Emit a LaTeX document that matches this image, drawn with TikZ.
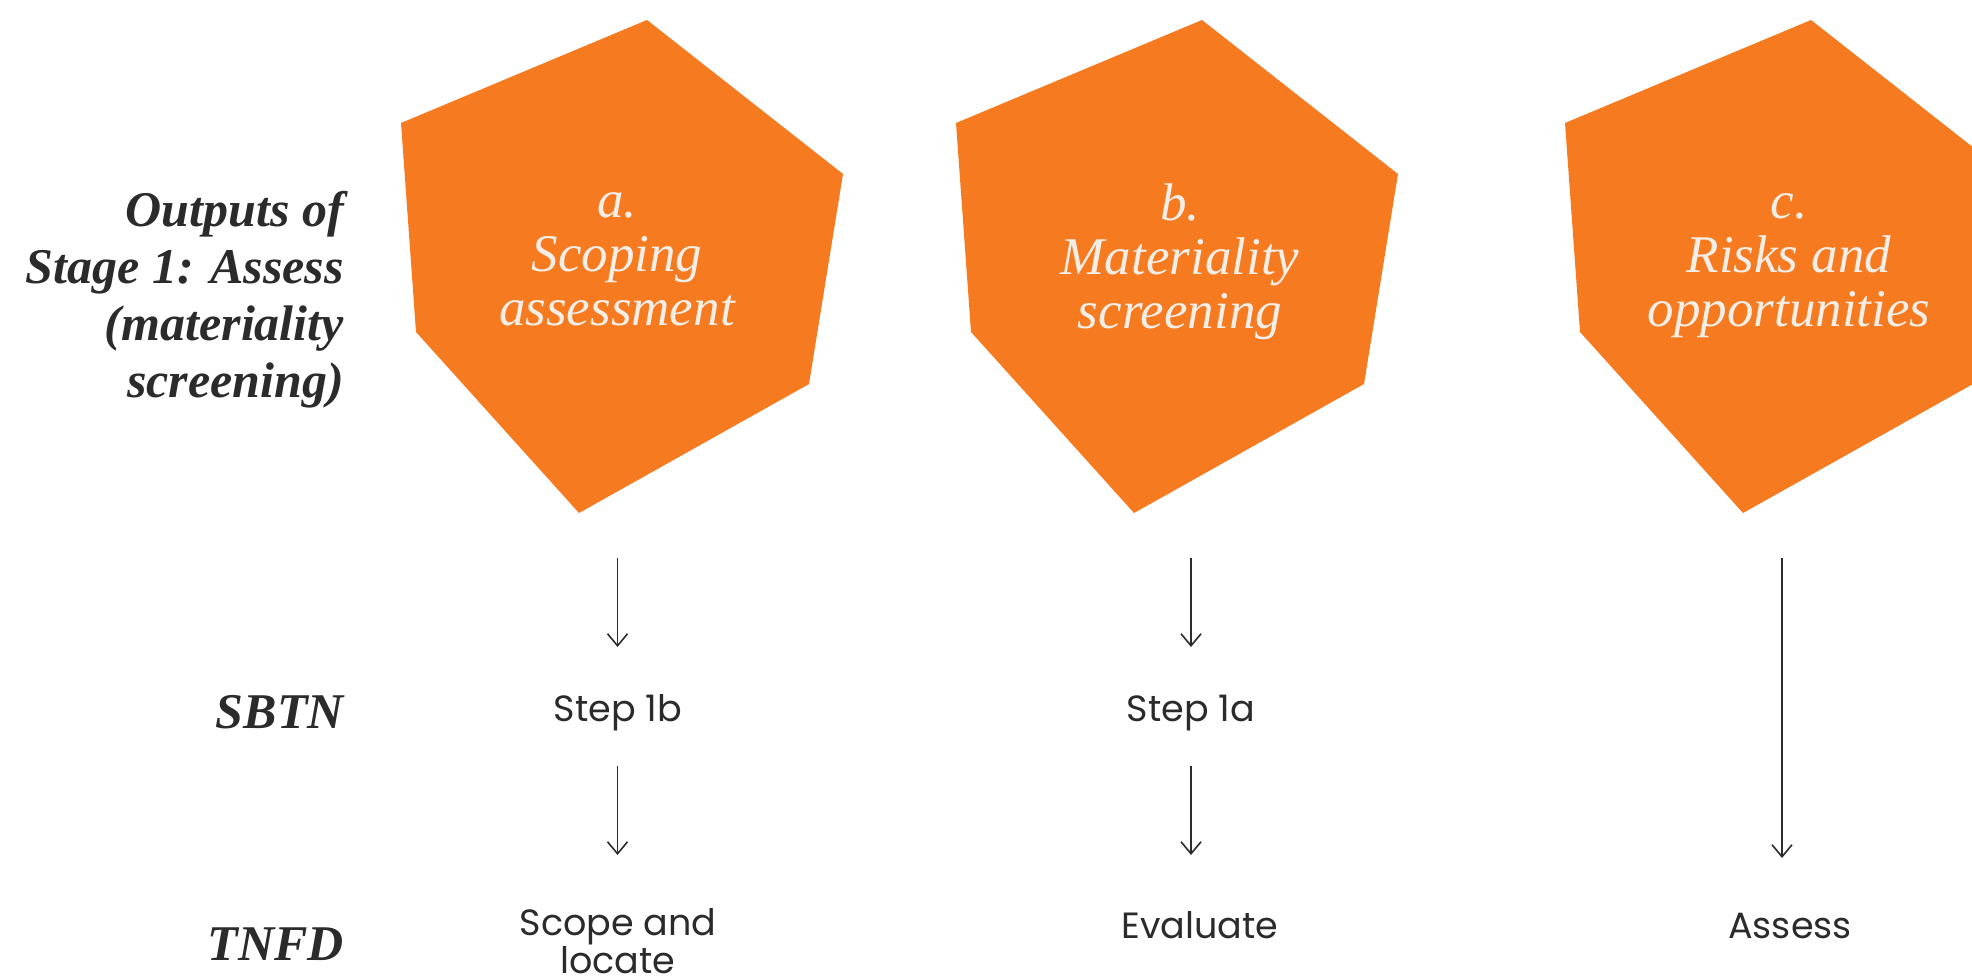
\documentclass[tikz,border=0pt]{standalone}
\usepackage{fontspec}
\setmainfont{Liberation Serif}
\newfontfamily\stepfont{Poppins}
\usetikzlibrary{arrows.meta}
\definecolor{orng}{HTML}{F57A20}
\definecolor{cream}{HTML}{F4EEE6}
\definecolor{ink}{HTML}{2B2B2B}
\tikzset{
  hexa/.pic={\fill[orng] (0,0) -- (246,-103) -- (442,51) -- (408,261) -- (178,390) -- (15,209) -- cycle;},
  hextext/.style={text=cream, align=center, inner sep=0pt, font=\fontsize{53}{54}\selectfont\itshape},
  rowlabel/.style={text=ink, align=right, inner sep=0pt, font=\fontsize{50}{57}\selectfont\bfseries\itshape},
  steplabel/.style={text=ink, align=center, inner sep=0pt, font=\fontsize{36.5}{38}\selectfont\stepfont},
  arr/.style={draw=ink, line width=1.6pt, -{Straight Barb[length=12pt,width=20pt,line width=1.6pt]}}
}
\begin{document}
\begin{tikzpicture}[x=1pt,y=-1pt]
\useasboundingbox (0,0) rectangle (1972,979);
\begin{scope}
\clip (0,0) rectangle (1972,979);
\pic at (401,123) {hexa};
\pic at (956,123) {hexa};
\pic at (1565,123) {hexa};
\end{scope}
\node[hextext] (ta) at (617,259) {a.\\Scoping\\assessment};
\node[hextext] (tb) at (1180,262) {b.\\Materiality\\screening};
\node[hextext] (tc) at (1789,266) {c.\\Risks and\\opportunities};
\node[rowlabel, anchor=east] (out) at (344,300) {Outputs of\\Stage 1: Assess\\(materiality\\screening)};
\node[rowlabel, anchor=base east] (sbtn) at (344,728) {SBTN};
\node[rowlabel, anchor=base east] (tnfd) at (344,960) {TNFD};
\node[steplabel, anchor=base] (s1b) at (618,721) {Step 1b};
\node[steplabel, anchor=base] (s1a) at (1191,721) {Step 1a};
\node[steplabel, anchor=base] (scope) at (618,973) {Scope and\\locate};
\node[steplabel, anchor=base] (eval) at (1200,938) {Evaluate};
\node[steplabel, anchor=base] (assess) at (1790,938) {Assess};
\coordinate (a0) at (617.5,558);
\coordinate (a1) at (617.5,647);
\coordinate (a2) at (617.5,766);
\coordinate (a3) at (617.5,855);
\coordinate (b0) at (1191,558);
\coordinate (b1) at (1191,647);
\coordinate (b2) at (1191,766);
\coordinate (b3) at (1191,855);
\coordinate (c0) at (1782,558);
\coordinate (c1) at (1782,858);
\draw[arr] (a0) -- (a1);
\draw[arr] (b0) -- (b1);
\draw[arr] (a2) -- (a3);
\draw[arr] (b2) -- (b3);
\draw[arr] (c0) -- (c1);
\end{tikzpicture}
\end{document}
